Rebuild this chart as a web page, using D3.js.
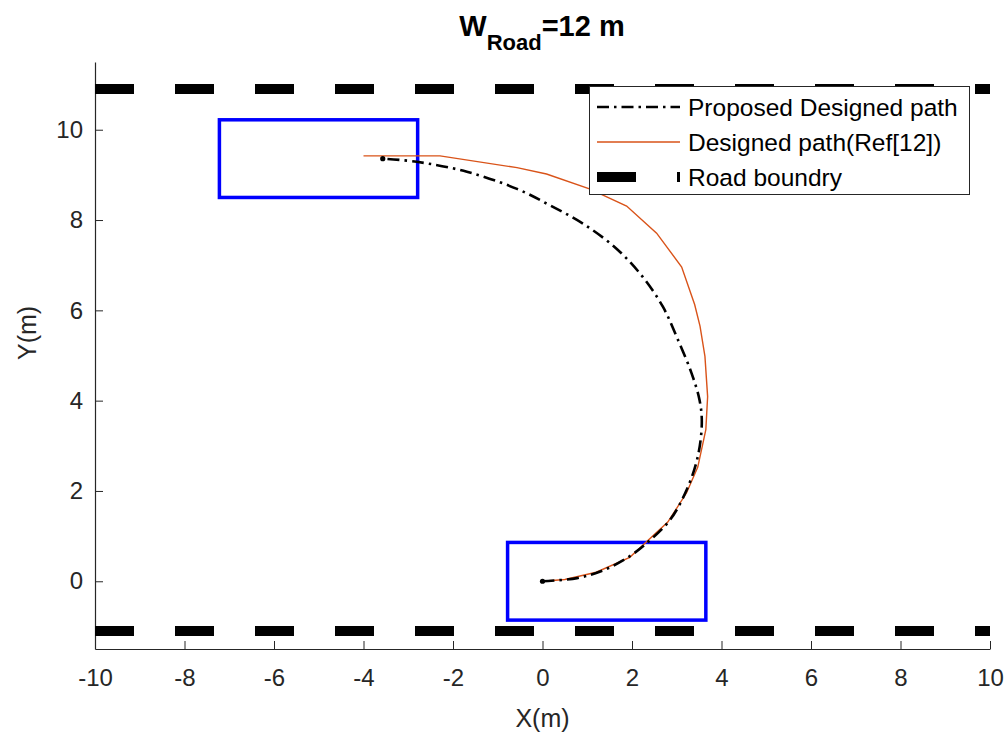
<!DOCTYPE html>
<html>
<head>
<meta charset="utf-8">
<script src="https://cdn.jsdelivr.net/npm/d3@7"></script>
<style>
  body { margin: 0; background: #fff; }
  text { font-family: "Liberation Sans", Arial, sans-serif; }
</style>
</head>
<body>
<div id="chart"></div>
<script>
// chart values
var xTicks = [-10, -8, -6, -4, -2, 0, 2, 4, 6, 8, 10];
var yTicks = [0, 2, 4, 6, 8, 10];

// proposed designed path (dash-dot)
var proposedX = [0, 0.77, 1.35, 1.88, 2.30, 2.85, 3.22, 3.47, 3.56, 3.51, 3.33, 3.00, 2.69, 2.24, 1.66, 0.92, 0.16, -0.57, -1.69, -2.81, -3.57];
var proposedY = [0, 0.07, 0.24, 0.51, 0.82, 1.36, 2.02, 2.76, 3.51, 4.01, 4.61, 5.41, 6.08, 6.74, 7.36, 7.91, 8.33, 8.69, 9.07, 9.29, 9.36];

// designed path Ref[12]
var refX = [0, 0.5, 1.2, 1.95, 2.80, 3.22, 3.47, 3.65, 3.69, 3.63, 3.52, 3.40, 3.11, 2.55, 1.88, 1.05, 0.09, -0.57, -2.29, -4.0];
var refY = [0, 0.04, 0.2, 0.53, 1.31, 1.96, 2.53, 3.36, 4.09, 4.98, 5.65, 6.13, 6.96, 7.71, 8.31, 8.69, 9.02, 9.16, 9.42, 9.42];

// vehicle boxes: [xmin, xmax, ymin, ymax]
var startBox = [-0.78, 3.65, -0.86, 0.86];
var endBox = [-7.22, -2.79, 8.5, 10.22];

// road boundaries
var roadY = [10.9, -1.1];
var roadX = [-10, 10];

var legendLabels = ["Proposed Designed path", "Designed path(Ref[12])", "Road boundry"];

var svgWidth = 1008;
var svgHeight = 733;

var margin = { top: 62, right: 18, bottom: 84, left: 95 };
var chartWidth = svgWidth - margin.left - margin.right;
var chartHeight = svgHeight - margin.top - margin.bottom;

var svg = d3.select("#chart")
  .append("svg")
  .attr("width", svgWidth)
  .attr("height", svgHeight);

var chartGroup = svg.append("g")
  .attr("transform", `translate(${margin.left}, ${margin.top})`);

var xScale = d3.scaleLinear().domain([-10, 10]).range([0, chartWidth]);
var yScale = d3.scaleLinear().domain([-1.5, 11.5]).range([chartHeight, 0]);

var axisColor = "#262626";
var fmt = d => String(d);

// axes (ticks pointing inward like matlab)
var xAxis = d3.axisBottom(xScale).tickValues(xTicks).tickFormat(fmt)
  .tickSizeInner(-8).tickSizeOuter(0).tickPadding(20);
var yAxis = d3.axisLeft(yScale).tickValues(yTicks).tickFormat(fmt)
  .tickSizeInner(-8).tickSizeOuter(0).tickPadding(12);

var gx = chartGroup.append("g")
  .attr("transform", `translate(0, ${chartHeight})`)
  .call(xAxis);
var gy = chartGroup.append("g").call(yAxis);

[gx, gy].forEach(function(g) {
  g.select(".domain").attr("stroke", axisColor).attr("stroke-width", 1.2);
  g.selectAll(".tick line").attr("stroke", axisColor).attr("stroke-width", 1);
  g.selectAll(".tick text")
    .attr("fill", axisColor)
    .style("font-size", "24px")
    .style("font-family", "Liberation Sans, Arial, sans-serif");
});
gx.selectAll(".tick text").attr("dy", "0.71em");

// road boundaries
var roadLine = d3.line().x(d => xScale(d[0])).y(d => yScale(d[1]));
roadY.forEach(function(ry) {
  chartGroup.append("path")
    .attr("d", roadLine([[roadX[0], ry], [roadX[1], ry]]))
    .attr("fill", "none")
    .attr("stroke", "#000")
    .attr("stroke-width", 10)
    .attr("stroke-dasharray", "39,41");
});

// vehicle boxes
[startBox, endBox].forEach(function(b) {
  chartGroup.append("rect")
    .attr("x", xScale(b[0]))
    .attr("y", yScale(b[3]))
    .attr("width", xScale(b[1]) - xScale(b[0]))
    .attr("height", yScale(b[2]) - yScale(b[3]))
    .attr("fill", "none")
    .attr("stroke", "#0000ff")
    .attr("stroke-width", 3.5);
});

// paths
var proposed = proposedX.map((x, i) => [x, proposedY[i]]);
var ref = refX.map((x, i) => [x, refY[i]]);

var smoothLine = d3.line()
  .x(d => xScale(d[0]))
  .y(d => yScale(d[1]))
  .curve(d3.curveCatmullRom.alpha(0.5));

chartGroup.append("path")
  .attr("d", roadLine(ref))
  .attr("fill", "none")
  .attr("stroke", "#D95319")
  .attr("stroke-width", 1.4);

chartGroup.append("path")
  .attr("d", smoothLine(proposed))
  .attr("fill", "none")
  .attr("stroke", "#000")
  .attr("stroke-width", 2.6)
  .attr("stroke-dasharray", "12,5,2.5,5");

chartGroup.selectAll(".endDot")
  .data([proposed[0], proposed[proposed.length - 1]])
  .enter()
  .append("circle")
  .attr("cx", d => xScale(d[0]))
  .attr("cy", d => yScale(d[1]))
  .attr("r", 2.6)
  .attr("fill", "#000");

// legend
var legend = svg.append("g");
legend.append("rect")
  .attr("x", 589.5).attr("y", 86.5)
  .attr("width", 380).attr("height", 108)
  .attr("fill", "#fff")
  .attr("stroke", axisColor)
  .attr("stroke-width", 1);

var rowY = [107, 142, 177];
legend.append("line")
  .attr("x1", 597).attr("x2", 680).attr("y1", rowY[0]).attr("y2", rowY[0])
  .attr("stroke", "#000").attr("stroke-width", 2.6)
  .attr("stroke-dasharray", "12,5,2.5,5");
legend.append("line")
  .attr("x1", 597).attr("x2", 680).attr("y1", rowY[1]).attr("y2", rowY[1])
  .attr("stroke", "#D95319").attr("stroke-width", 1.4);
legend.append("line")
  .attr("x1", 597).attr("x2", 680).attr("y1", rowY[2]).attr("y2", rowY[2])
  .attr("stroke", "#000").attr("stroke-width", 10)
  .attr("stroke-dasharray", "39,41");

legend.selectAll(".legText")
  .data(legendLabels)
  .enter()
  .append("text")
  .attr("x", 688)
  .attr("y", (d, i) => rowY[i])
  .attr("dy", "0.35em")
  .style("font-size", "24.5px")
  .attr("fill", "#000")
  .text(d => d);

// title
var title = svg.append("text")
  .attr("x", 542)
  .attr("y", 36)
  .attr("text-anchor", "middle")
  .style("font-size", "29px")
  .style("font-weight", "bold")
  .attr("fill", "#000");
title.append("tspan").text("W");
title.append("tspan").attr("dy", 14).style("font-size", "22px").text("Road");
title.append("tspan").attr("dy", -14).text("=12 m");

// axis labels
svg.append("text")
  .attr("x", margin.left + chartWidth / 2)
  .attr("y", 727)
  .attr("text-anchor", "middle")
  .style("font-size", "25px")
  .attr("fill", axisColor)
  .text("X(m)");

svg.append("text")
  .attr("transform", `translate(36, ${margin.top + yScale(5.5)}) rotate(-90)`)
  .attr("text-anchor", "middle")
  .style("font-size", "25px")
  .attr("fill", axisColor)
  .text("Y(m)");
</script>
</body>
</html>
